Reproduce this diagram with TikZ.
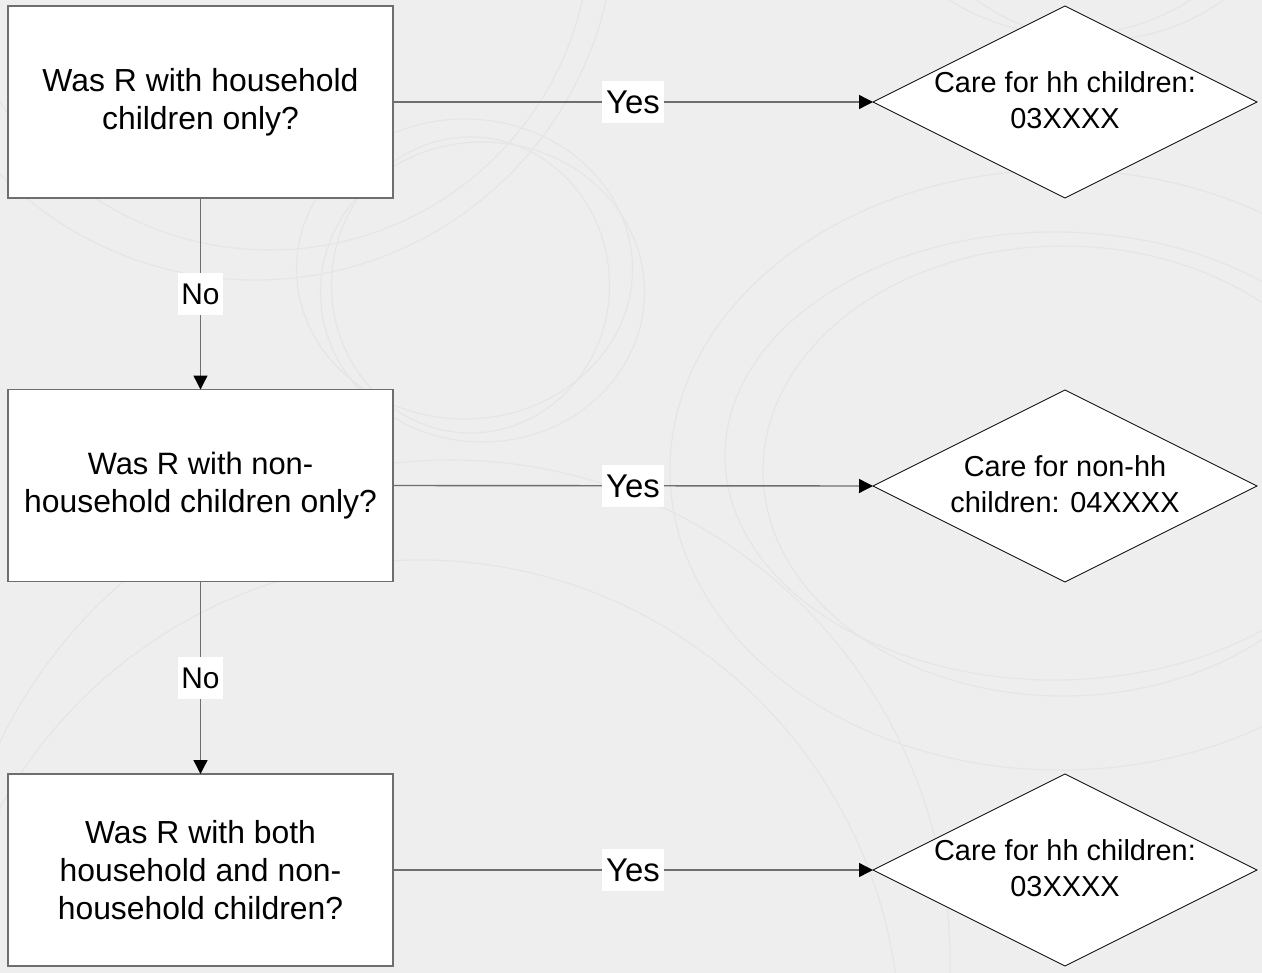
\documentclass[tikz,border=0pt]{standalone}
\usepackage{fontspec}
\setmainfont{Liberation Sans}
\usetikzlibrary{shapes.geometric,arrows.meta}
\definecolor{bgc}{HTML}{EEEEEE}
\definecolor{ring}{HTML}{E5E5E5}
\definecolor{edgec}{HTML}{6E6E6E}
\begin{document}
\begin{tikzpicture}[x=1bp,y=-1bp,
  qbox/.style={rectangle,draw=edgec,line width=1.4bp,fill=white,
    minimum width=385bp,minimum height=192bp,inner sep=0pt,outer sep=0pt,
    align=center,font=\fontsize{32}{38}\selectfont},
  dshape/.style={diamond,draw=black,line width=0.8bp,fill=white,
    minimum width=384bp,minimum height=192bp,inner sep=0pt,outer sep=0pt,aspect=2},
  dtext/.style={align=center,font=\fontsize{29}{36}\selectfont,inner sep=0pt},
  lbl/.style={fill=white,font=\fontsize{33}{38}\selectfont,inner xsep=4bp,
    inner ysep=10bp,text height=22.5bp,text depth=0bp},
  nolbl/.style={lbl,font=\fontsize{30}{36}\selectfont,inner xsep=3bp,text height=21.5bp},
  conn/.style={draw=edgec,line width=1.4bp,
    -{Triangle[length=14bp,width=14bp,color=black]}},
  ringline/.style={draw=ring,line width=1.1bp}
]
\useasboundingbox (0,0) rectangle (1262,973);
\fill[bgc] (0,0) rectangle (1262,973);
\begin{scope}
\clip (0,0) rectangle (1262,973);
% faint background rings
\draw[ringline] (464.5,269) ellipse [x radius=168bp, y radius=150bp];
\draw[ringline] (482.5,292) ellipse [x radius=162bp, y radius=150bp];
\draw[ringline] (470.5,285) ellipse [x radius=139bp, y radius=148bp];
\draw[ringline] (270,-70) circle [radius=320bp];
\draw[ringline] (255,-80) circle [radius=360bp];
\draw[ringline] (1060,470) ellipse [x radius=390bp, y radius=300bp];
\draw[ringline] (1055,456) ellipse [x radius=330bp, y radius=224bp];
\draw[ringline] (1063,471) ellipse [x radius=300bp, y radius=225bp];
\draw[ringline] (450,960) circle [radius=500bp];
\draw[ringline] (420,1040) circle [radius=480bp];
\draw[ringline] (1100,-170) circle [radius=210bp];
\draw[ringline] (1070,-190) circle [radius=225bp];
\end{scope}

% question boxes
\node[qbox] (b1) at (200.5,102) {Was R with household\\children only?};
\node[qbox] (b2) at (200.5,485.5) {\fontsize{31}{38}\selectfont Was R with non-\\household children only?};
\node[qbox] (b3) at (200.5,870) {Was R with both\\household and non-\\household children?};

% outcome diamonds
\node[dshape] (d1) at (1065,102) {};
\node[dshape] (d2) at (1065,486) {};
\node[dshape] (d3) at (1065,870) {};
\node[dtext] (t1) at ([yshift=1.5bp]d1.center) {Care for hh children:\\03XXXX};
\node[dtext] (t2) at ([yshift=1.5bp]d2.center) {Care for non-hh\\children: 04XXXX};
\node[dtext] (t3) at ([yshift=1.5bp]d3.center) {Care for hh children:\\03XXXX};

% connectors
\draw[conn] (b1.east) -- node[lbl] (y1) {Yes} (d1.west);
\draw[conn] (b2.east) -- node[lbl] (y2) {Yes} (d2.west);
\draw[conn] (b3.east) -- node[lbl] (y3) {Yes} (d3.west);
\draw[conn] (b1.south) -- node[nolbl] (n1) {No} (b2.north);
\draw[conn] (b2.south) -- node[nolbl] (n2) {No} (b3.north);
\end{tikzpicture}
\end{document}
